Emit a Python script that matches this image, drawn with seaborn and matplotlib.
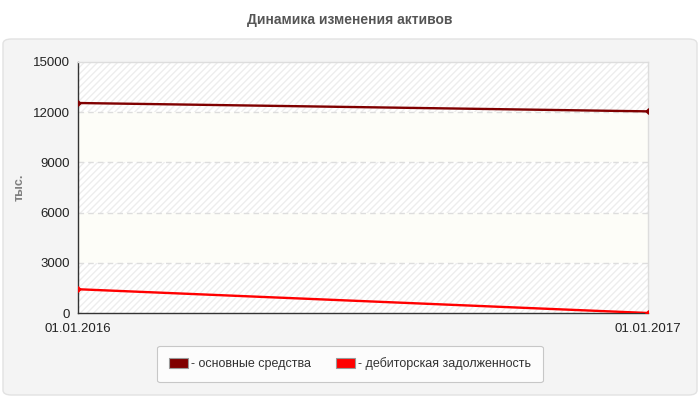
import pandas as pd
import numpy as np
import matplotlib
matplotlib.use("Agg")
import matplotlib.pyplot as plt
import matplotlib.dates as mdates
from matplotlib.patches import FancyBboxPatch, Patch
import seaborn as sns

# data
dates = ["2016-01-01", "2017-01-01"]
fixed_assets = [12550, 12050]
receivables = [1420, 0]
series_names = ["основные средства", "дебиторская задолженность"]
series_colors = ["#800000", "#ff0000"]
y_ticks = [0, 3000, 6000, 9000, 12000, 15000]

df = pd.DataFrame({
    "date": pd.to_datetime(dates * 2),
    "value": fixed_assets + receivables,
    "series": [series_names[0]] * 2 + [series_names[1]] * 2,
})

sns.set_theme(style="white")
plt.rcParams["font.family"] = ["Liberation Sans", "DejaVu Sans"]

fig = plt.figure(figsize=(7, 4), dpi=100)

# grey rounded panel behind the chart
panel = FancyBboxPatch((3 / 700, 5 / 400), 694 / 700, 356 / 400,
                       boxstyle="round,pad=0,rounding_size=0.012",
                       transform=fig.transFigure, facecolor="#f4f4f4",
                       edgecolor="#e2e2e2", linewidth=1, zorder=-10)
fig.patches.append(panel)

fig.text(0.5, 1 - 20 / 400, "Динамика изменения активов", ha="center", va="center",
         fontsize=10, fontweight="bold", color="#555555")

ax = fig.add_axes([78 / 700, 1 - 313 / 400, 570 / 700, 251 / 400])
ax.set_zorder(1)
ax.set_facecolor("#fdfdf8")

# alternating hatched bands
x0 = pd.Timestamp(dates[0])
x1 = pd.Timestamp(dates[-1])
for i in range(len(y_ticks) - 1):
    if i % 2 == 0:
        ax.axhspan(y_ticks[i], y_ticks[i + 1], facecolor="#ffffff", edgecolor="#ededed",
                   hatch="/////", linewidth=0, zorder=0)

for y in y_ticks[1:-1]:
    ax.axhline(y, color="#dddddd", linestyle=(0, (4, 3)), linewidth=1, zorder=1)

sns.lineplot(data=df, x="date", y="value", hue="series", palette=series_colors,
             linewidth=1.7, marker="D", markersize=3.5, markeredgewidth=0,
             legend=False, ax=ax, zorder=3)

ax.set_xlim(x0, x1)
ax.set_ylim(0, 15000)
ax.set_yticks(y_ticks)
ax.set_yticklabels([str(v) for v in y_ticks])
ax.set_xticks([x0, x1])
ax.xaxis.set_major_formatter(mdates.DateFormatter("%d.%m.%Y"))
ax.tick_params(axis="both", which="both", direction="out", length=4, width=1,
               color="#333333", labelsize=9.5, labelcolor="#222222", pad=2)
ax.tick_params(axis="x", pad=3)
ax.set_xlabel("")
ax.set_ylabel("тыс.", fontsize=9, color="#808080", fontweight="bold")
ax.yaxis.set_label_coords(-52 / 570, 0.5)

for side in ["left", "bottom"]:
    ax.spines[side].set_color("#333333")
    ax.spines[side].set_linewidth(1)
for side in ["top", "right"]:
    ax.spines[side].set_color("#dddddd")
    ax.spines[side].set_linewidth(1)

handles = [Patch(facecolor=c, edgecolor="#999999", linewidth=0.8) for c in series_colors]
leg = fig.legend(handles, ["- " + n for n in series_names], loc="center",
                 bbox_to_anchor=(0.5, 1 - 364 / 400), ncol=2, frameon=True,
                 fontsize=9, handlelength=1.5, handleheight=0.9, handletextpad=0.25,
                 columnspacing=2.0, borderpad=0.95, fancybox=True)
leg.get_frame().set_facecolor("#ffffff")
leg.get_frame().set_edgecolor("#bbbbbb")
leg.get_frame().set_linewidth(0.8)
for t in leg.get_texts():
    t.set_color("#333333")

fig.savefig("out.png", dpi=100)
